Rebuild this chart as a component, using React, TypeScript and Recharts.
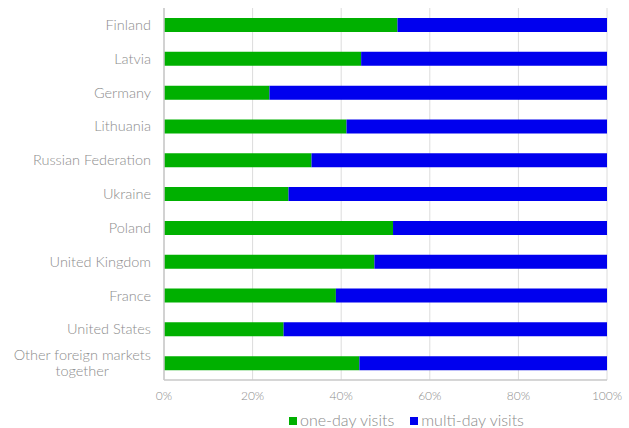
import React from 'react';
import { BarChart, Bar, XAxis, YAxis, CartesianGrid } from 'recharts';

const categories = [
  'Finland',
  'Latvia',
  'Germany',
  'Lithuania',
  'Russian Federation',
  'Ukraine',
  'Poland',
  'United Kingdom',
  'France',
  'United States',
  'Other foreign markets together',
];
const oneDay = [52.7, 44.5, 23.8, 41.2, 33.3, 28.1, 51.7, 47.5, 38.8, 27.0, 44.1];
const multiDay = [47.3, 55.5, 76.2, 58.8, 66.7, 71.9, 48.3, 52.5, 61.2, 73.0, 55.9];
const xTicks = [0, 20, 40, 60, 80, 100];
const seriesNames = ['one-day visits', 'multi-day visits'];
const colors = ['#00b000', '#0000ee'];

const data = categories.map((c, i) => ({ name: c, oneDay: oneDay[i], multiDay: multiDay[i] }));

const FONT = 'Lato, sans-serif';
const TEXT_COLOR = '#8c8c8c';
const Y_SIZE = 14.5;
const WEIGHT = 300;

let ctx: CanvasRenderingContext2D | null = null;
function measure(s: string, size: number) {
  if (!ctx) ctx = document.createElement('canvas').getContext('2d');
  if (!ctx) return s.length * 7;
  ctx.font = `${WEIGHT} ${size}px Lato`;
  return ctx.measureText(s).width;
}

const YTick = (props: any) => {
  const { y, payload } = props;
  const x = props.x - 5;
  const label: string = payload.value;
  const size = Y_SIZE;
  const maxW = 145;
  if (measure(label, size) <= maxW) {
    return (
      <text x={x} y={y} dy="0.35em" textAnchor="end" fontFamily={FONT} fontWeight={WEIGHT} fontSize={size} fill={TEXT_COLOR}>
        {label}
      </text>
    );
  }
  const words = label.split(' ');
  const lines: string[] = [];
  let cur = '';
  words.forEach((w) => {
    const t = cur ? cur + ' ' + w : w;
    if (measure(t, size) > maxW && cur) {
      lines.push(cur);
      cur = w;
    } else cur = t;
  });
  if (cur) lines.push(cur);
  const widest = Math.max(...lines.map((l) => measure(l, size)));
  const cx = x - widest / 2;
  const lh = 16;
  const startY = y - ((lines.length - 1) * lh) / 2;
  return (
    <text textAnchor="middle" fontFamily={FONT} fontWeight={WEIGHT} fontSize={size} fill={TEXT_COLOR}>
      {lines.map((l, i) => (
        <tspan key={i} x={cx} y={startY + i * lh} dy="0.35em">
          {l}
        </tspan>
      ))}
    </text>
  );
};

const LegendBox = () => (
  <div
    style={{
      position: 'absolute',
      left: 289,
      top: 410,
      height: 20,
      display: 'flex',
      alignItems: 'center',
      fontFamily: FONT,
      fontWeight: WEIGHT,
      fontSize: 16,
      lineHeight: '20px',
      color: TEXT_COLOR,
      whiteSpace: 'nowrap',
    }}
  >
    {seriesNames.map((n, i) => (
      <div key={n} style={{ display: 'flex', alignItems: 'center', marginRight: 16 }}>
        <span style={{ display: 'inline-block', width: 8, height: 8, background: colors[i], marginRight: 3, marginTop: 2 }} />
        <span>{n}</span>
      </div>
    ))}
  </div>
);

export default function App() {
  return (
    <div style={{ position: 'absolute', left: 0, top: 0, width: 629, height: 428, background: '#fff' }}>
      <BarChart
        width={629}
        height={428}
        data={data}
        layout="vertical"
        margin={{ top: 8, right: 22, bottom: 18, left: 0 }}
        barCategoryGap={0}
      >
        <CartesianGrid horizontal={false} vertical stroke="#dcdcdc" strokeWidth={1} />
        <XAxis
          type="number"
          domain={[0, 100]}
          ticks={xTicks}
          tickFormatter={(v) => `${v}%`}
          tickLine={false}
          axisLine={{ stroke: '#c8c8c8', strokeWidth: 1.5 }}
          tick={{ fill: TEXT_COLOR, fontSize: 12, fontFamily: FONT, fontWeight: WEIGHT }}
          tickMargin={5}
          height={30}
          interval={0}
        />
        <YAxis
          type="category"
          dataKey="name"
          width={164}
          tickLine={false}
          axisLine={{ stroke: '#c8c8c8', strokeWidth: 1.5 }}
          tick={<YTick />}
          interval={0}
        />
        <Bar dataKey="oneDay" name={seriesNames[0]} stackId="a" fill={colors[0]} barSize={14} isAnimationActive={false} />
        <Bar dataKey="multiDay" name={seriesNames[1]} stackId="a" fill={colors[1]} barSize={14} isAnimationActive={false} />
      </BarChart>
      <LegendBox />
    </div>
  );
}
